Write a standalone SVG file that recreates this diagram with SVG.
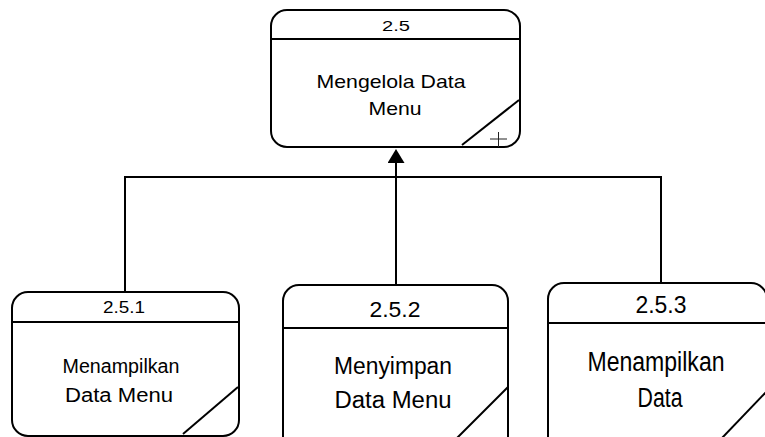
<svg xmlns="http://www.w3.org/2000/svg" width="765" height="437" viewBox="0 0 765 437">
  <style>
    .box { fill: #ffffff; stroke: #000000; stroke-width: 2; }
    .ln { stroke: #000000; stroke-width: 2; fill: none; }
    .conn { stroke: #000000; stroke-width: 2; fill: none; }
    text { font-family: "Liberation Sans", Arial, sans-serif; fill: #000000; text-anchor: middle; }
  </style>
  <defs>
    <marker id="arrow" markerUnits="userSpaceOnUse" viewBox="0 0 14 17" refX="0" refY="8.5" markerWidth="14" markerHeight="17" orient="auto">
      <path d="M0,0 L14,8.5 L0,17 z" fill="#000000"/>
    </marker>
  </defs>
  <rect width="765" height="437" fill="#ffffff"/>

  <g id="connectors">
    <path class="conn" d="M125,292 L125,177 L661,177 L661,283"/>
    <path class="conn" d="M396,285 L396,163" stroke-width="2.5" marker-end="url(#arrow)"/>
  </g>

  <g id="node-2.5">
    <rect class="box" x="271" y="10" width="249" height="137" rx="16" ry="16"/>
    <line class="ln" x1="271" y1="39" x2="520" y2="39"/>
    <line class="ln" x1="462" y1="145" x2="519" y2="100"/>
    <path d="M490,139 L507,139 M498.5,132 L498.5,147" stroke="#222222" stroke-width="1" fill="none"/>
    <text x="396" y="31" font-size="14.5" textLength="28" lengthAdjust="spacingAndGlyphs">2.5</text>
    <text x="391" y="88" font-size="18.5" textLength="149" lengthAdjust="spacingAndGlyphs">Mengelola Data</text>
    <text x="395" y="115" font-size="18.5" textLength="53" lengthAdjust="spacingAndGlyphs">Menu</text>
  </g>

  <g id="node-2.5.1">
    <rect class="box" x="12" y="292" width="227" height="144" rx="16" ry="16"/>
    <line class="ln" x1="12" y1="322" x2="239" y2="322"/>
    <line class="ln" x1="183" y1="434" x2="238" y2="387"/>
    <text x="124" y="313" font-size="16" textLength="42" lengthAdjust="spacingAndGlyphs">2.5.1</text>
    <text x="121" y="373" font-size="19.5" textLength="117" lengthAdjust="spacingAndGlyphs">Menampilkan</text>
    <text x="119" y="402" font-size="19.5" textLength="108" lengthAdjust="spacingAndGlyphs">Data Menu</text>
  </g>

  <g id="node-2.5.2">
    <rect class="box" x="283" y="285" width="225" height="170" rx="16" ry="16"/>
    <line class="ln" x1="283" y1="328" x2="508" y2="328"/>
    <line class="ln" x1="457" y1="438" x2="508" y2="387"/>
    <text x="395" y="317" font-size="22" textLength="51" lengthAdjust="spacingAndGlyphs">2.5.2</text>
    <text x="393" y="374" font-size="23" textLength="118" lengthAdjust="spacingAndGlyphs">Menyimpan</text>
    <text x="393" y="408" font-size="23" textLength="117" lengthAdjust="spacingAndGlyphs">Data Menu</text>
  </g>

  <g id="node-2.5.3">
    <rect class="box" x="548" y="283" width="219" height="170" rx="16" ry="16"/>
    <line class="ln" x1="548" y1="323" x2="767" y2="323"/>
    <line class="ln" x1="722" y1="438" x2="767" y2="391"/>
    <text x="661" y="313" font-size="24.5" textLength="51" lengthAdjust="spacingAndGlyphs">2.5.3</text>
    <text x="656" y="371" font-size="27" textLength="137" lengthAdjust="spacingAndGlyphs">Menampilkan</text>
    <text x="660" y="407" font-size="27" textLength="45" lengthAdjust="spacingAndGlyphs">Data</text>
  </g>
</svg>
